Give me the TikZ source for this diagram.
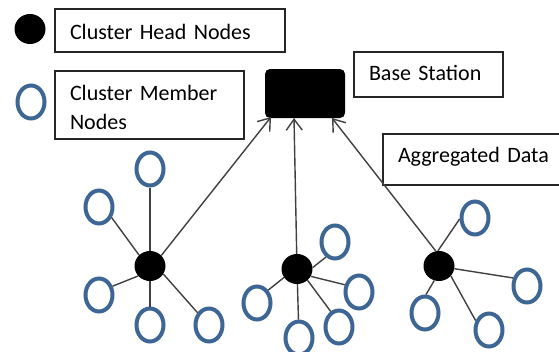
\documentclass[tikz,border=0pt]{standalone}
\usepackage{fontspec}
\setmainfont{Carlito}
\usepackage{xcolor}
\usetikzlibrary{arrows.meta,shapes.geometric}
\definecolor{ringblue}{HTML}{3D6695}
\newcommand{\legendfont}{\fontsize{22}{28.3}\selectfont\spaceskip 2.5pt\relax}
\tikzset{
	headnode/.style={ellipse, fill=black, minimum width=31pt, minimum height=30pt, inner sep=0pt},
	membernode/.style={ellipse, draw=ringblue, line width=4pt, fill=white, minimum width=27pt, minimum height=33pt, inner sep=0pt},
	legendbox/.style={draw=black!85, line width=1.2pt, fill=white, inner xsep=15pt, inner ysep=0pt, text depth=0pt, align=left, font=\legendfont},
	stationnode/.style={rectangle, rounded corners=5pt, fill=black, minimum width=80pt, minimum height=49pt, inner sep=0pt},
	link/.style={draw=black!75, line width=1.4pt},
	uplink/.style={link, -{Straight Barb[length=11pt,width=16pt]}}
}

\begin{document}
\begin{tikzpicture}[x=1pt, y=-1pt]
	\useasboundingbox (0, 0) rectangle (559, 351);
	\node [headnode] (HL) at (30, 29) {};
	\node [membernode] (ML) at (31, 102) {};
	\node [legendbox, text width=200pt, text height=18pt, minimum height=43pt] (HT) at (170, 30.5) {Cluster Head Nodes};
	\node [legendbox, text width=159pt, text height=0pt, text depth=8.6pt, minimum height=68pt] (MT) at (149.5, 105) {Cluster Member\\Nodes};
	\node [stationnode] (BS) at (305, 93.5) {};
	\node [legendbox, text width=119pt, text height=11pt, minimum height=45pt] (BT) at (428.5, 74.5) {Base Station};
	\node [legendbox, text width=157pt, text height=5pt, minimum height=51pt] (DT) at (476.5, 159.5) {Aggregated Data};
	\coordinate (BA) at (271, 117);
	\coordinate (BB) at (294, 118);
	\coordinate (BC) at (332, 118);

	\node [headnode] (HA) at (150, 266) {};
	\node [membernode] (A1) at (150, 169) {};
	\node [membernode] (A2) at (99, 207) {};
	\node [membernode] (A3) at (99, 295) {};
	\node [membernode] (A4) at (150, 325) {};
	\node [membernode] (A5) at (209, 325) {};

	\node [headnode] (HB) at (297, 269) {};
	\node [membernode] (B1) at (335, 242) {};
	\node [membernode] (B2) at (359, 292) {};
	\node [membernode] (B3) at (339, 327) {};
	\node [membernode] (B4) at (299, 338) {};
	\node [membernode] (B5) at (257, 303) {};

	\node [headnode] (HC) at (439, 266) {};
	\node [membernode] (C1) at (475, 218) {};
	\node [membernode] (C2) at (527, 286) {};
	\node [membernode] (C3) at (489, 330) {};
	\node [membernode] (C4) at (425, 313) {};

	\draw [uplink] (HA.43) -- (BA);
	\draw [uplink] (HB) -- (BB);
	\draw [uplink] (HC.102) -- (BC);
	\draw [link] (HA) -- (A1);
	\draw [link] (HA.135) -- (A2.-40);
	\draw [link] (HA.220) -- (A3.33);
	\draw [link] (HA) -- (A4);
	\draw [link] (HA.-31) -- (A5.133);
	\draw [link] (HB.5) -- (B1.239);
	\draw [link] (HB.-28) -- (B2.153);
	\draw [link] (HB.-47) -- (B3.118);
	\draw [link] (HB) -- (B4);
	\draw [link] (HB.213) -- (B5.49);
	\draw [link] (HC.94) -- (C1.184);
	\draw [link] (HC.-10) -- (C2.150);
	\draw [link] (HC.-40) -- (C3.145);
	\draw [link] (HC.252) -- (C4.87);
\end{tikzpicture}
\end{document}
